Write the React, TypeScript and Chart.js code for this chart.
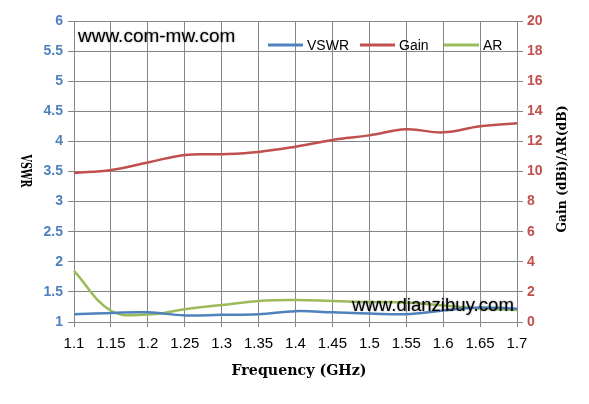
import React, { useEffect, useRef } from "react";
import { Chart, registerables } from "chart.js";

Chart.register(...registerables);

const frequencies = ["1.1", "1.15", "1.2", "1.25", "1.3", "1.35", "1.4", "1.45", "1.5", "1.55", "1.6", "1.65", "1.7"];
const vswr = [1.13, 1.15, 1.16, 1.11, 1.12, 1.13, 1.18, 1.16, 1.14, 1.13, 1.19, 1.24, 1.22];
const gain = [9.9, 10.1, 10.6, 11.1, 11.15, 11.3, 11.65, 12.1, 12.4, 12.8, 12.6, 13.0, 13.2];
const ar = [3.4, 0.75, 0.5, 0.85, 1.13, 1.4, 1.46, 1.4, 1.33, 1.3, 1.1, 0.9, 0.8];

const BLUE = "#4F81BD";
const RED = "#C0504D";
const GREEN = "#9BBB59";
const GRID = "#868686";

function fitText(ctx: CanvasRenderingContext2D, text: string, targetWidth: number) {
  const w = ctx.measureText(text).width;
  const s = targetWidth / w;
  ctx.save();
  ctx.scale(s, 1);
  ctx.fillText(text, 0, 0);
  ctx.restore();
}

const overlayPlugin = {
  id: "overlay",
  afterDatasetsDraw(chart: any) {
    const ctx = chart.ctx as CanvasRenderingContext2D;
    ctx.save();
    // legend
    const items = [
      { label: "VSWR", color: BLUE, x: 268 },
      { label: "Gain", color: RED, x: 360 },
      { label: "AR", color: GREEN, x: 444 },
    ];
    ctx.font = "14px 'Liberation Sans'";
    ctx.textBaseline = "middle";
    ctx.textAlign = "left";
    items.forEach((it) => {
      ctx.strokeStyle = it.color;
      ctx.lineWidth = 3;
      ctx.beginPath();
      ctx.moveTo(it.x, 45);
      ctx.lineTo(it.x + 35, 45);
      ctx.stroke();
      ctx.fillStyle = "#000";
      ctx.fillText(it.label, it.x + 39, 46);
    });
    // watermarks
    ctx.shadowColor = "rgba(0,0,0,0.45)";
    ctx.shadowBlur = 2;
    ctx.fillStyle = "#000";
    ctx.textBaseline = "alphabetic";
    ctx.font = "19px 'Liberation Sans'";
    ctx.fillText("www.com-mw.com", 78, 42);
    ctx.font = "18.6px 'Liberation Sans'";
    ctx.fillText("www.dianzibuy.com", 352, 311);
    ctx.shadowBlur = 0;
    ctx.shadowColor = "transparent";
    // axis titles
    ctx.fillStyle = "#000";
    ctx.textAlign = "center";
    ctx.textBaseline = "middle";
    ctx.save();
    ctx.translate(299, 371);
    ctx.font = "bold 14px 'DejaVu Serif'";
    fitText(ctx, "Frequency (GHz)", 135);
    ctx.restore();
    ctx.save();
    ctx.translate(25, 171);
    ctx.rotate(Math.PI / 2);
    ctx.font = "bold 14px 'DejaVu Serif'";
    fitText(ctx, "VSWR", 33);
    ctx.restore();
    ctx.save();
    ctx.translate(563, 169);
    ctx.rotate(-Math.PI / 2);
    ctx.font = "bold 13px 'DejaVu Serif'";
    fitText(ctx, "Gain (dBi)/AR(dB)", 127);
    ctx.restore();
    ctx.restore();
  },
};

export default function App() {
  const ref = useRef<HTMLCanvasElement | null>(null);
  useEffect(() => {
    if (!ref.current) return;
    const chart = new Chart(ref.current, {
      type: "line",
      data: {
        labels: frequencies,
        datasets: [
          { label: "VSWR", data: vswr, borderColor: BLUE, backgroundColor: BLUE, borderWidth: 2.5, pointRadius: 0, tension: 0.4, yAxisID: "y" },
          { label: "Gain", data: gain, borderColor: RED, backgroundColor: RED, borderWidth: 2.5, pointRadius: 0, tension: 0.4, yAxisID: "y1" },
          { label: "AR", data: ar, borderColor: GREEN, backgroundColor: GREEN, borderWidth: 2.5, pointRadius: 0, tension: 0.4, yAxisID: "y1" },
        ],
      },
      options: {
        responsive: false,
        animation: false,
        layout: { padding: { top: 21, left: 0, right: 0, bottom: 0 } },
        plugins: { legend: { display: false }, tooltip: { enabled: false } },
        scales: {
          x: {
            type: "category",
            offset: false,
            grid: { color: GRID, tickLength: 5, lineWidth: 1 },
            border: { color: GRID },
            ticks: { color: "#000", font: { family: "'Liberation Sans'", size: 15 }, padding: 8, maxRotation: 0, autoSkip: false },
            afterFit(scale: any) { scale.height = 82; },
          },
          y: {
            type: "linear",
            position: "left",
            min: 1,
            max: 6,
            grid: { color: GRID, tickLength: 6 },
            border: { color: GRID },
            ticks: { stepSize: 0.5, color: BLUE, font: { family: "'Liberation Sans'", size: 14, weight: "bold" }, padding: 5, callback: (v: any) => String(v) },
            afterFit(scale: any) { scale.width = 74; },
          },
          y1: {
            type: "linear",
            position: "right",
            min: 0,
            max: 20,
            grid: { drawOnChartArea: false, color: GRID, tickLength: 6 },
            border: { color: GRID },
            ticks: { stepSize: 2, color: RED, font: { family: "'Liberation Sans'", size: 14, weight: "bold" }, padding: 4, callback: (v: any) => String(v) },
            afterFit(scale: any) { scale.width = 72; },
          },
        },
      },
      plugins: [overlayPlugin],
    } as any);
    return () => chart.destroy();
  }, []);
  return (
    <div style={{ position: "absolute", left: 0, top: 0, width: 589, height: 404, background: "#fff" }}>
      <canvas ref={ref} width={589} height={404} style={{ width: 589, height: 404 }} />
    </div>
  );
}
